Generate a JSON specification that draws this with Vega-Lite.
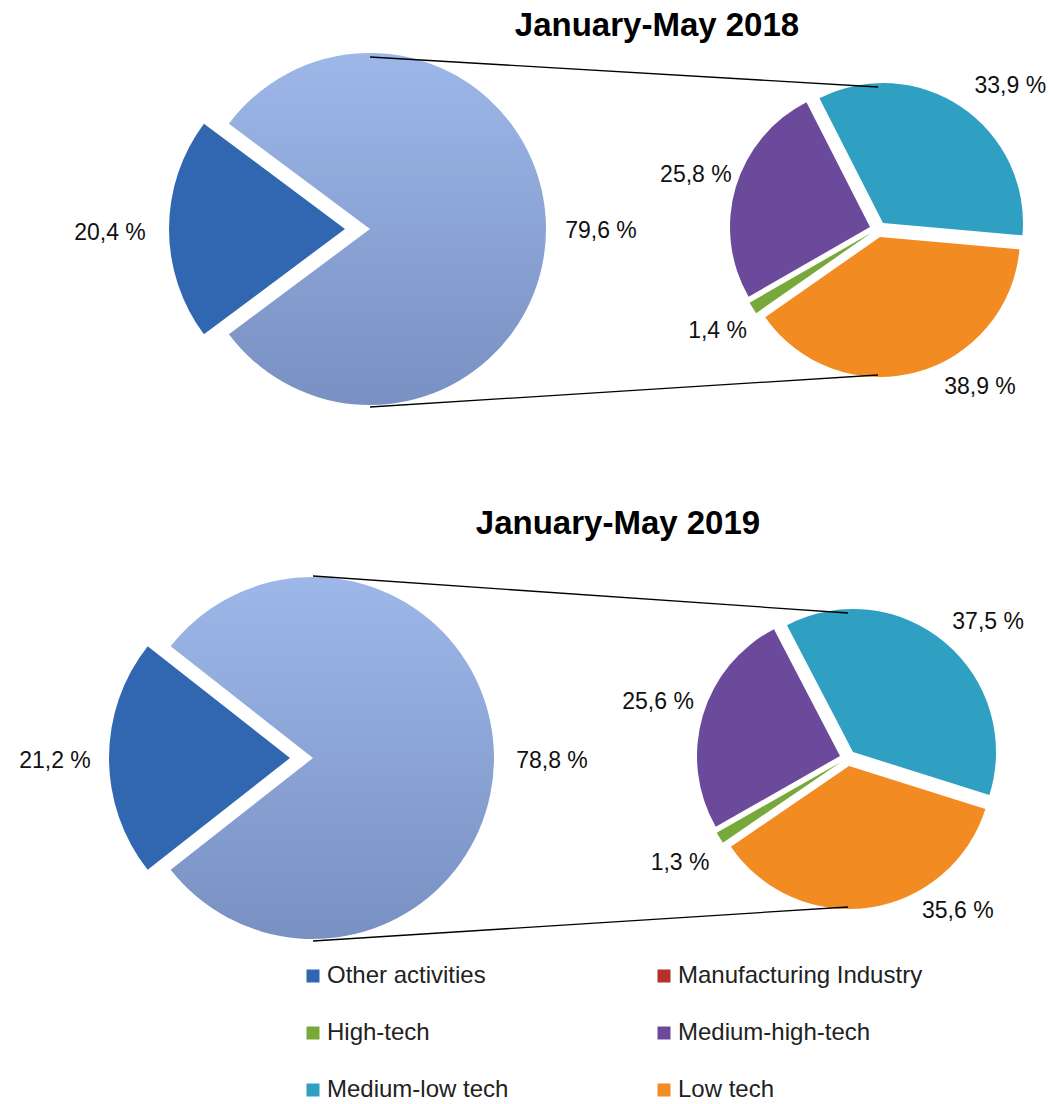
{
  "$schema": "https://vega.github.io/schema/vega-lite/v6.json",
  "background": "white",
  "padding": {"top": 9, "left": 0, "right": 0, "bottom": 0},
  "bounds": "flush",
  "spacing": 140,
  "config": {"view": {"stroke": null}, "font": "Liberation Sans"},
  "data": {"values": [
    {"year": "2018", "pie": "main", "cat": "Other activities", "value": 20.4, "label": "20,4 %", "order": 1},
    {"year": "2018", "pie": "main", "cat": "Manufacturing Industry", "value": 79.6, "label": "79,6 %", "order": 2},
    {"year": "2018", "pie": "detail", "cat": "Medium-low tech", "value": 33.9, "label": "33,9 %", "order": 1},
    {"year": "2018", "pie": "detail", "cat": "Low tech", "value": 38.9, "label": "38,9 %", "order": 2},
    {"year": "2018", "pie": "detail", "cat": "High-tech", "value": 1.4, "label": "1,4 %", "order": 3},
    {"year": "2018", "pie": "detail", "cat": "Medium-high-tech", "value": 25.8, "label": "25,8 %", "order": 4},
    {"year": "2019", "pie": "main", "cat": "Other activities", "value": 21.2, "label": "21,2 %", "order": 1},
    {"year": "2019", "pie": "main", "cat": "Manufacturing Industry", "value": 78.8, "label": "78,8 %", "order": 2},
    {"year": "2019", "pie": "detail", "cat": "Medium-low tech", "value": 37.5, "label": "37,5 %", "order": 1},
    {"year": "2019", "pie": "detail", "cat": "Low tech", "value": 35.6, "label": "35,6 %", "order": 2},
    {"year": "2019", "pie": "detail", "cat": "High-tech", "value": 1.3, "label": "1,3 %", "order": 3},
    {"year": "2019", "pie": "detail", "cat": "Medium-high-tech", "value": 25.6, "label": "25,6 %", "order": 4}
  ]},
  "vconcat": [
    {
      "width": 1054, "height": 356,
      "title": {"text": "January-May 2018", "font": "Liberation Sans", "fontSize": 33, "fontWeight": "bold", "color": "#000000", "anchor": "middle", "dx": 130, "offset": -34, "baseline": "alphabetic"},
      "transform": [{"filter": "datum.year == '2018'"}],
      "encoding": {
        "x": {"field": "pie", "type": "nominal", "scale": {"type": "point", "domain": ["main", "detail"], "range": [370, 878], "padding": 0}, "axis": null}
      },
      "layer": [
        {
          "transform": [{"filter": "datum.pie == 'main'"}],
          "mark": {"type": "arc", "outerRadius": 176, "fill": {"gradient": "linear", "x1": 0, "y1": 0, "x2": 0, "y2": 1, "stops": [{"offset": 0, "color": "#9db8e8"}, {"offset": 1, "color": "#7890c2"}]}},
          "encoding": {
            "theta": {"field": "value", "type": "quantitative", "stack": true, "scale": {"domain": [0, 100], "range": [4.0715, 10.3547]}},
            "order": {"field": "order", "type": "quantitative"},
            "opacity": {"condition": {"test": "datum.cat == 'Manufacturing Industry'", "value": 1}, "value": 0}
          }
        },
        {
          "transform": [{"filter": "datum.pie == 'main'"}],
          "mark": {"type": "arc", "outerRadius": 176, "xOffset": -25},
          "encoding": {
            "theta": {"field": "value", "type": "quantitative", "stack": true, "scale": {"domain": [0, 100], "range": [4.0715, 10.3547]}},
            "order": {"field": "order", "type": "quantitative"},
            "color": {"field": "cat", "type": "nominal",
              "scale": {"domain": ["Other activities", "Manufacturing Industry", "High-tech", "Medium-high-tech", "Medium-low tech", "Low tech"], "range": ["#3167b1", "#b7312c", "#76a83a", "#6b4a9b", "#2fa0c2", "#f38b23"]},
              "legend": {"title": null, "orient": "none", "legendX": 301, "legendY": 913, "direction": "horizontal", "columns": 2, "columnPadding": 143, "rowPadding": 33, "symbolType": "square", "symbolSize": 169, "symbolStrokeWidth": 0, "labelFont": "Liberation Sans", "labelFontSize": 24, "labelColor": "#222222", "labelOffset": 2, "labelLimit": 400, "padding": 0}},
            "opacity": {"condition": {"test": "datum.cat == 'Other activities'", "value": 1}, "value": 0}
          }
        },
        {
          "transform": [{"filter": "datum.pie == 'detail'"}],
          "mark": {"type": "arc", "outerRadius": 140, "xOffset": 5, "yOffset": -6},
          "encoding": {
            "theta": {"field": "value", "type": "quantitative", "stack": true, "scale": {"domain": [0, 100], "range": [-0.4712, 5.812]}},
            "order": {"field": "order", "type": "quantitative"},
            "color": {"field": "cat", "type": "nominal"},
            "opacity": {"condition": {"test": "datum.cat == 'Medium-low tech'", "value": 1}, "value": 0}
          }
        },
        {
          "transform": [{"filter": "datum.pie == 'detail'"}],
          "mark": {"type": "arc", "outerRadius": 140, "xOffset": 2, "yOffset": 8},
          "encoding": {
            "theta": {"field": "value", "type": "quantitative", "stack": true, "scale": {"domain": [0, 100], "range": [-0.4712, 5.812]}},
            "order": {"field": "order", "type": "quantitative"},
            "color": {"field": "cat", "type": "nominal"},
            "opacity": {"condition": {"test": "datum.cat == 'Low tech'", "value": 1}, "value": 0}
          }
        },
        {
          "transform": [{"filter": "datum.pie == 'detail'"}],
          "mark": {"type": "arc", "outerRadius": 140, "xOffset": -7, "yOffset": 4},
          "encoding": {
            "theta": {"field": "value", "type": "quantitative", "stack": true, "scale": {"domain": [0, 100], "range": [-0.4712, 5.812]}},
            "order": {"field": "order", "type": "quantitative"},
            "color": {"field": "cat", "type": "nominal"},
            "opacity": {"condition": {"test": "datum.cat == 'High-tech'", "value": 1}, "value": 0}
          }
        },
        {
          "transform": [{"filter": "datum.pie == 'detail'"}],
          "mark": {"type": "arc", "outerRadius": 140, "xOffset": -8, "yOffset": -2},
          "encoding": {
            "theta": {"field": "value", "type": "quantitative", "stack": true, "scale": {"domain": [0, 100], "range": [-0.4712, 5.812]}},
            "order": {"field": "order", "type": "quantitative"},
            "color": {"field": "cat", "type": "nominal"},
            "opacity": {"condition": {"test": "datum.cat == 'Medium-high-tech'", "value": 1}, "value": 0}
          }
        },
        {
          "transform": [{"filter": "datum.pie == 'main'"}],
          "mark": {"type": "text", "radius": 260, "dy": 4, "font": "Liberation Sans", "fontSize": 23, "color": "#111111"},
          "encoding": {
            "theta": {"field": "value", "type": "quantitative", "stack": true, "scale": {"domain": [0, 100], "range": [4.0715, 10.3547]}},
            "order": {"field": "order", "type": "quantitative"},
            "text": {"field": "label"},
            "opacity": {"condition": {"test": "datum.cat == 'Other activities'", "value": 1}, "value": 0}
          }
        },
        {
          "transform": [{"filter": "datum.pie == 'main'"}],
          "mark": {"type": "text", "radius": 231, "dy": 2, "font": "Liberation Sans", "fontSize": 23, "color": "#111111"},
          "encoding": {
            "theta": {"field": "value", "type": "quantitative", "stack": true, "scale": {"domain": [0, 100], "range": [4.0715, 10.3547]}},
            "order": {"field": "order", "type": "quantitative"},
            "text": {"field": "label"},
            "opacity": {"condition": {"test": "datum.cat == 'Manufacturing Industry'", "value": 1}, "value": 0}
          }
        },
        {
          "transform": [{"filter": "datum.pie == 'detail'"}],
          "mark": {"type": "text", "radius": 190, "font": "Liberation Sans", "fontSize": 23, "color": "#111111"},
          "encoding": {
            "theta": {"field": "value", "type": "quantitative", "stack": true, "scale": {"domain": [0, 100], "range": [-0.4712, 5.812]}},
            "order": {"field": "order", "type": "quantitative"},
            "text": {"field": "label"},
            "opacity": {"condition": {"test": "datum.cat == 'High-tech' || datum.cat == 'Medium-high-tech'", "value": 1}, "value": 0}
          }
        },
        {
          "transform": [{"filter": "datum.pie == 'detail'"}],
          "mark": {"type": "text", "radius": 190, "dx": 26, "dy": 14, "font": "Liberation Sans", "fontSize": 23, "color": "#111111"},
          "encoding": {
            "theta": {"field": "value", "type": "quantitative", "stack": true, "scale": {"domain": [0, 100], "range": [-0.4712, 5.812]}},
            "order": {"field": "order", "type": "quantitative"},
            "text": {"field": "label"},
            "opacity": {"condition": {"test": "datum.cat == 'Medium-low tech'", "value": 1}, "value": 0}
          }
        },
        {
          "transform": [{"filter": "datum.pie == 'detail'"}],
          "mark": {"type": "text", "radius": 190, "dx": 53, "dy": -26, "font": "Liberation Sans", "fontSize": 23, "color": "#111111"},
          "encoding": {
            "theta": {"field": "value", "type": "quantitative", "stack": true, "scale": {"domain": [0, 100], "range": [-0.4712, 5.812]}},
            "order": {"field": "order", "type": "quantitative"},
            "text": {"field": "label"},
            "opacity": {"condition": {"test": "datum.cat == 'Low tech'", "value": 1}, "value": 0}
          }
        },
        {
          "transform": [{"filter": "datum.pie == 'main' && datum.order == 1"}],
          "mark": {"type": "rule", "color": "#000000", "strokeWidth": 1.3},
          "encoding": {
            "x": {"datum": "main"},
            "x2": {"datum": "detail"},
            "y": {"datum": -172, "scale": {"domain": [178, -178]}, "axis": null},
            "y2": {"datum": -142}
          }
        },
        {
          "transform": [{"filter": "datum.pie == 'main' && datum.order == 1"}],
          "mark": {"type": "rule", "color": "#000000", "strokeWidth": 1.3},
          "encoding": {
            "x": {"datum": "main"},
            "x2": {"datum": "detail"},
            "y": {"datum": 178, "scale": {"domain": [178, -178]}, "axis": null},
            "y2": {"datum": 146}
          }
        }
      ],
      "resolve": {"scale": {"theta": "independent"}}
    },
    {
      "width": 1054, "height": 422,
      "title": {"text": "January-May 2019", "font": "Liberation Sans", "fontSize": 33, "fontWeight": "bold", "color": "#000000", "anchor": "middle", "dx": 91, "offset": -20, "baseline": "alphabetic"},
      "transform": [{"filter": "datum.year == '2019'"}],
      "encoding": {
        "x": {"field": "pie", "type": "nominal", "scale": {"type": "point", "domain": ["main", "detail"], "range": [313, 848], "padding": 0}, "axis": null}
      },
      "layer": [
        {
          "transform": [{"filter": "datum.pie == 'main'"}],
          "mark": {"type": "arc", "outerRadius": 181, "fill": {"gradient": "linear", "x1": 0, "y1": 0, "x2": 0, "y2": 1, "stops": [{"offset": 0, "color": "#9db8e8"}, {"offset": 1, "color": "#7890c2"}]}},
          "encoding": {
            "theta": {"field": "value", "type": "quantitative", "stack": true, "scale": {"domain": [0, 100], "range": [4.0464, 10.3296]}},
            "order": {"field": "order", "type": "quantitative"},
            "opacity": {"condition": {"test": "datum.cat == 'Manufacturing Industry'", "value": 1}, "value": 0}
          }
        },
        {
          "transform": [{"filter": "datum.pie == 'main'"}],
          "mark": {"type": "arc", "outerRadius": 181, "xOffset": -23},
          "encoding": {
            "theta": {"field": "value", "type": "quantitative", "stack": true, "scale": {"domain": [0, 100], "range": [4.0464, 10.3296]}},
            "order": {"field": "order", "type": "quantitative"},
            "color": {"field": "cat", "type": "nominal"},
            "opacity": {"condition": {"test": "datum.cat == 'Other activities'", "value": 1}, "value": 0}
          }
        },
        {
          "transform": [{"filter": "datum.pie == 'detail'"}],
          "mark": {"type": "arc", "outerRadius": 143, "xOffset": 5, "yOffset": -6},
          "encoding": {
            "theta": {"field": "value", "type": "quantitative", "stack": true, "scale": {"domain": [0, 100], "range": [-0.48, 5.8032]}},
            "order": {"field": "order", "type": "quantitative"},
            "color": {"field": "cat", "type": "nominal"},
            "opacity": {"condition": {"test": "datum.cat == 'Medium-low tech'", "value": 1}, "value": 0}
          }
        },
        {
          "transform": [{"filter": "datum.pie == 'detail'"}],
          "mark": {"type": "arc", "outerRadius": 143, "xOffset": 1, "yOffset": 8},
          "encoding": {
            "theta": {"field": "value", "type": "quantitative", "stack": true, "scale": {"domain": [0, 100], "range": [-0.48, 5.8032]}},
            "order": {"field": "order", "type": "quantitative"},
            "color": {"field": "cat", "type": "nominal"},
            "opacity": {"condition": {"test": "datum.cat == 'Low tech'", "value": 1}, "value": 0}
          }
        },
        {
          "transform": [{"filter": "datum.pie == 'detail'"}],
          "mark": {"type": "arc", "outerRadius": 143, "xOffset": -7, "yOffset": 4},
          "encoding": {
            "theta": {"field": "value", "type": "quantitative", "stack": true, "scale": {"domain": [0, 100], "range": [-0.48, 5.8032]}},
            "order": {"field": "order", "type": "quantitative"},
            "color": {"field": "cat", "type": "nominal"},
            "opacity": {"condition": {"test": "datum.cat == 'High-tech'", "value": 1}, "value": 0}
          }
        },
        {
          "transform": [{"filter": "datum.pie == 'detail'"}],
          "mark": {"type": "arc", "outerRadius": 143, "xOffset": -8, "yOffset": -2},
          "encoding": {
            "theta": {"field": "value", "type": "quantitative", "stack": true, "scale": {"domain": [0, 100], "range": [-0.48, 5.8032]}},
            "order": {"field": "order", "type": "quantitative"},
            "color": {"field": "cat", "type": "nominal"},
            "opacity": {"condition": {"test": "datum.cat == 'Medium-high-tech'", "value": 1}, "value": 0}
          }
        },
        {
          "transform": [{"filter": "datum.pie == 'main'"}],
          "mark": {"type": "text", "radius": 258, "dy": 3, "font": "Liberation Sans", "fontSize": 23, "color": "#111111"},
          "encoding": {
            "theta": {"field": "value", "type": "quantitative", "stack": true, "scale": {"domain": [0, 100], "range": [4.0464, 10.3296]}},
            "order": {"field": "order", "type": "quantitative"},
            "text": {"field": "label"},
            "opacity": {"condition": {"test": "datum.cat == 'Other activities'", "value": 1}, "value": 0}
          }
        },
        {
          "transform": [{"filter": "datum.pie == 'main'"}],
          "mark": {"type": "text", "radius": 239, "dy": 3, "font": "Liberation Sans", "fontSize": 23, "color": "#111111"},
          "encoding": {
            "theta": {"field": "value", "type": "quantitative", "stack": true, "scale": {"domain": [0, 100], "range": [4.0464, 10.3296]}},
            "order": {"field": "order", "type": "quantitative"},
            "text": {"field": "label"},
            "opacity": {"condition": {"test": "datum.cat == 'Manufacturing Industry'", "value": 1}, "value": 0}
          }
        },
        {
          "transform": [{"filter": "datum.pie == 'detail'"}],
          "mark": {"type": "text", "radius": 198, "font": "Liberation Sans", "fontSize": 23, "color": "#111111"},
          "encoding": {
            "theta": {"field": "value", "type": "quantitative", "stack": true, "scale": {"domain": [0, 100], "range": [-0.48, 5.8032]}},
            "order": {"field": "order", "type": "quantitative"},
            "text": {"field": "label"},
            "opacity": {"condition": {"test": "datum.cat == 'High-tech' || datum.cat == 'Medium-high-tech'", "value": 1}, "value": 0}
          }
        },
        {
          "transform": [{"filter": "datum.pie == 'detail'"}],
          "mark": {"type": "text", "radius": 190, "dx": 18, "dy": 10, "font": "Liberation Sans", "fontSize": 23, "color": "#111111"},
          "encoding": {
            "theta": {"field": "value", "type": "quantitative", "stack": true, "scale": {"domain": [0, 100], "range": [-0.48, 5.8032]}},
            "order": {"field": "order", "type": "quantitative"},
            "text": {"field": "label"},
            "opacity": {"condition": {"test": "datum.cat == 'Medium-low tech'", "value": 1}, "value": 0}
          }
        },
        {
          "transform": [{"filter": "datum.pie == 'detail'"}],
          "mark": {"type": "text", "radius": 190, "dx": 82, "dy": -35, "font": "Liberation Sans", "fontSize": 23, "color": "#111111"},
          "encoding": {
            "theta": {"field": "value", "type": "quantitative", "stack": true, "scale": {"domain": [0, 100], "range": [-0.48, 5.8032]}},
            "order": {"field": "order", "type": "quantitative"},
            "text": {"field": "label"},
            "opacity": {"condition": {"test": "datum.cat == 'Low tech'", "value": 1}, "value": 0}
          }
        },
        {
          "transform": [{"filter": "datum.pie == 'main' && datum.order == 1"}],
          "mark": {"type": "rule", "color": "#000000", "strokeWidth": 1.3},
          "encoding": {
            "x": {"datum": "main"},
            "x2": {"datum": "detail"},
            "y": {"datum": -182, "scale": {"domain": [211, -211]}, "axis": null},
            "y2": {"datum": -145}
          }
        },
        {
          "transform": [{"filter": "datum.pie == 'main' && datum.order == 1"}],
          "mark": {"type": "rule", "color": "#000000", "strokeWidth": 1.3},
          "encoding": {
            "x": {"datum": "main"},
            "x2": {"datum": "detail"},
            "y": {"datum": 183, "scale": {"domain": [211, -211]}, "axis": null},
            "y2": {"datum": 149}
          }
        }
      ],
      "resolve": {"scale": {"theta": "independent"}}
    }
  ]
}
